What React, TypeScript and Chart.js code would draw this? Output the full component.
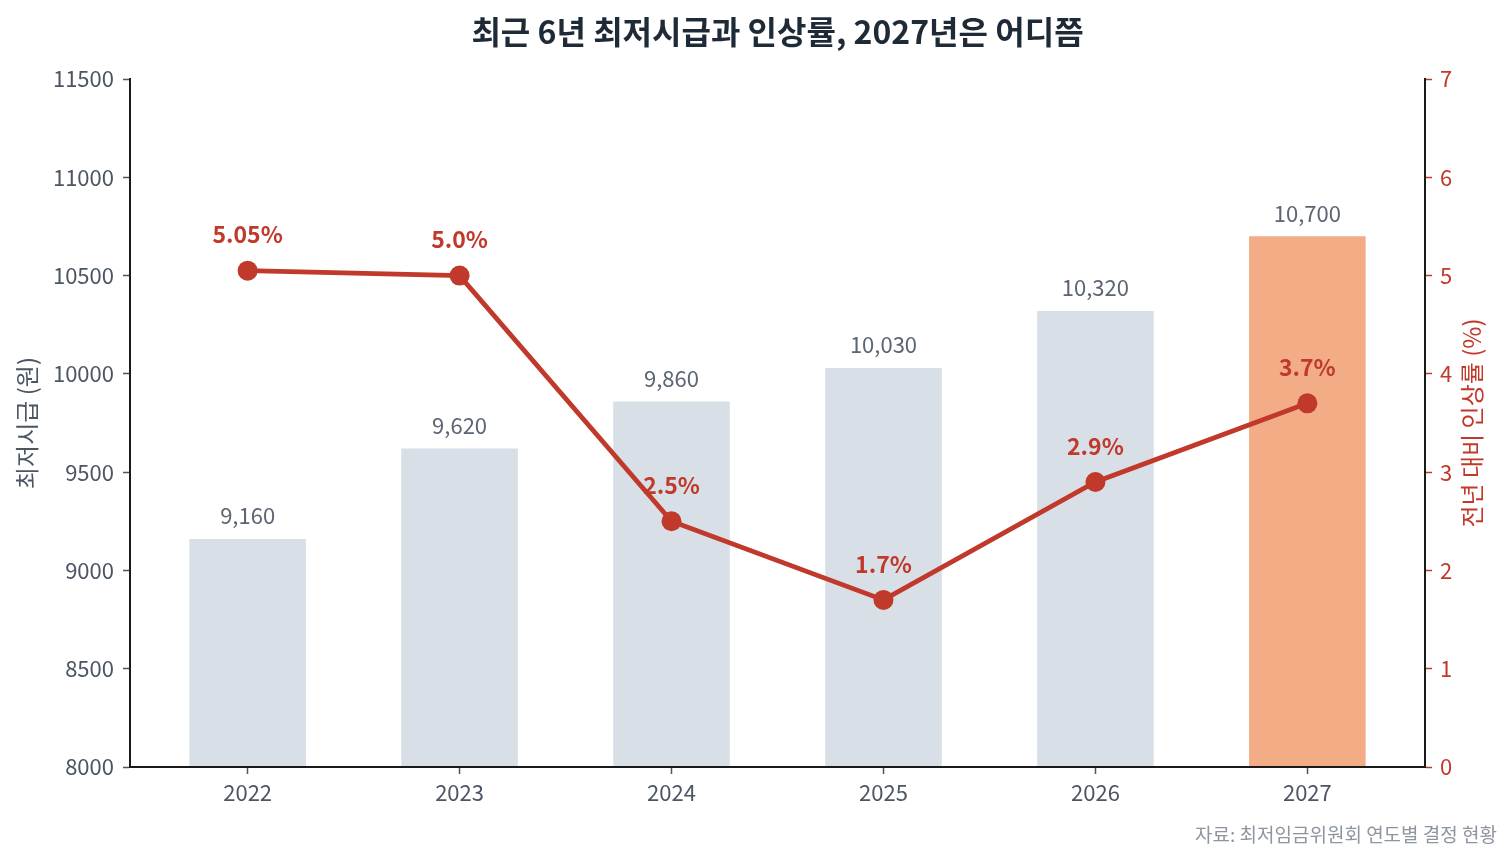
import { useEffect, useRef } from 'react';
import { Chart, registerables } from 'chart.js';

Chart.register(...registerables);

const years = ['2022', '2023', '2024', '2025', '2026', '2027'];
const wages = [9160, 9620, 9860, 10030, 10320, 10700];
const rates = [5.05, 5.0, 2.5, 1.7, 2.9, 3.7];
const highlightYear = '2027';
const titleText = '최근 6년 최저시급과 인상률, 2027년은 어디쯤';
const leftTitle = '최저시급 (원)';
const rightTitle = '전년 대비 인상률 (%)';
const sourceText = '자료: 최저임금위원회 연도별 결정 현황';

const FONT = "'Noto Sans CJK KR', 'Noto Sans', sans-serif";
const RED = '#c0392b';
const GRAY_BAR = '#d8dfe6';
const ORANGE_BAR = '#f2ad86';
const TICK_GRAY = '#4b5563';
const AXIS = '#1a1a1a';

const fmtRate = (r: number) => (Math.round(r * 10) === r * 10 ? r.toFixed(1) : r.toFixed(2)) + '%';

const labelPlugin = {
  id: 'valueLabels',
  afterDatasetsDraw(chart: any) {
    const ctx = chart.ctx as CanvasRenderingContext2D;
    ctx.save();
    ctx.textAlign = 'center';
    ctx.textBaseline = 'middle';
    const barMeta = chart.getDatasetMeta(0);
    ctx.font = `400 22px ${FONT}`;
    ctx.fillStyle = '#5b6573';
    barMeta.data.forEach((el: any, i: number) => {
      ctx.fillText(wages[i].toLocaleString('en-US'), el.x, el.y - 23);
    });
    const lineMeta = chart.getDatasetMeta(1);
    ctx.font = `700 23px ${FONT}`;
    ctx.fillStyle = RED;
    lineMeta.data.forEach((el: any, i: number) => {
      ctx.fillText(fmtRate(rates[i]), el.x, el.y - 36);
    });
    const area = chart.chartArea;
    ctx.translate(area.right + 47, (area.top + area.bottom) / 2);
    ctx.rotate(-Math.PI / 2);
    ctx.font = `400 24px ${FONT}`;
    ctx.fillStyle = RED;
    ctx.fillText(rightTitle, 0, 0);
    ctx.restore();
  },
};

export default function App() {
  const ref = useRef<HTMLCanvasElement | null>(null);

  useEffect(() => {
    document.body.style.margin = '0';
    Chart.defaults.font.family = FONT;
    const canvas = ref.current!;
    const chart = new Chart(canvas, {
      type: 'bar',
      data: {
        datasets: [
          {
            type: 'bar',
            label: '최저시급',
            data: wages.map((w, i) => ({ x: i, y: w })),
            backgroundColor: years.map((y) => (y === highlightYear ? ORANGE_BAR : GRAY_BAR)),
            borderWidth: 0,
            categoryPercentage: 1,
            barPercentage: 0.55,
            yAxisID: 'y',
            order: 1,
          },
          {
            type: 'line',
            label: '인상률',
            data: rates.map((r, i) => ({ x: i, y: r })),
            borderColor: RED,
            backgroundColor: RED,
            borderWidth: 4.8,
            pointRadius: 10,
            pointBorderWidth: 0,
            pointBackgroundColor: RED,
            tension: 0,
            yAxisID: 'y1',
            order: 0,
          } as any,
        ],
      },
      options: {
        animation: false,
        responsive: false,
        layout: { padding: { left: 0, right: 15, top: 0, bottom: 0 } },
        plugins: {
          legend: { display: false },
          tooltip: { enabled: false },
          title: {
            display: true,
            text: titleText,
            fullSize: false,
            color: '#1f2a37',
            font: { size: 32, weight: 'bold', family: FONT },
            padding: { top: 12.8, bottom: 27.8 },
          },
          subtitle: {
            display: true,
            text: sourceText,
            position: 'bottom',
            align: 'end',
            color: '#8d959e',
            font: { size: 19, family: FONT },
            padding: { top: 6.6, bottom: 17.6 },
          },
        },
        scales: {
          x: {
            type: 'linear',
            min: -0.555,
            max: 5.555,
            offset: false,
            afterBuildTicks: (scale: any) => {
              scale.ticks = years.map((_, i) => ({ value: i }));
            },
            afterFit: (scale: any) => {
              scale.height = 50;
            },
            ticks: {
              callback: (v: any) => years[Number(v)],
              color: TICK_GRAY,
              font: { size: 22 },
              padding: 5,
              maxRotation: 0,
            },
            grid: {
              display: true,
              offset: false,
              drawOnChartArea: false,
              drawTicks: true,
              tickLength: 7,
              tickColor: TICK_GRAY,
              tickWidth: 1.5,
            },
            border: { display: true, color: AXIS, width: 2, z: 1 },
          },
          y: {
            type: 'linear',
            position: 'left',
            min: 8000,
            max: 11500,
            beginAtZero: false,
            afterFit: (scale: any) => {
              scale.width = 130;
            },
            ticks: {
              stepSize: 500,
              callback: (v: any) => String(v),
              color: TICK_GRAY,
              font: { size: 22 },
              padding: 9,
            },
            grid: {
              display: true,
              drawOnChartArea: false,
              drawTicks: true,
              tickLength: 7,
              tickColor: TICK_GRAY,
              tickWidth: 1.5,
            },
            border: { display: true, color: AXIS, width: 2, z: 1 },
            title: {
              display: true,
              text: leftTitle,
              color: TICK_GRAY,
              font: { size: 24 },
              padding: { top: 12.6, bottom: 0 },
            },
          },
          y1: {
            type: 'linear',
            position: 'right',
            min: 0,
            max: 7,
            afterFit: (scale: any) => {
              scale.width = 72;
            },
            ticks: {
              stepSize: 1,
              color: RED,
              font: { size: 22 },
              padding: 8,
            },
            grid: {
              display: true,
              drawOnChartArea: false,
              drawTicks: true,
              tickLength: 7,
              tickColor: RED,
              tickWidth: 1.5,
            },
            border: { display: true, color: AXIS, width: 2, z: 1 },
          },
        },
      } as any,
      plugins: [labelPlugin],
    });
    return () => chart.destroy();
  }, []);

  return (
    <div style={{ width: 1512, height: 864, background: '#fff' }}>
      <canvas ref={ref} width={1512} height={864} style={{ display: 'block', width: 1512, height: 864 }} />
    </div>
  );
}
